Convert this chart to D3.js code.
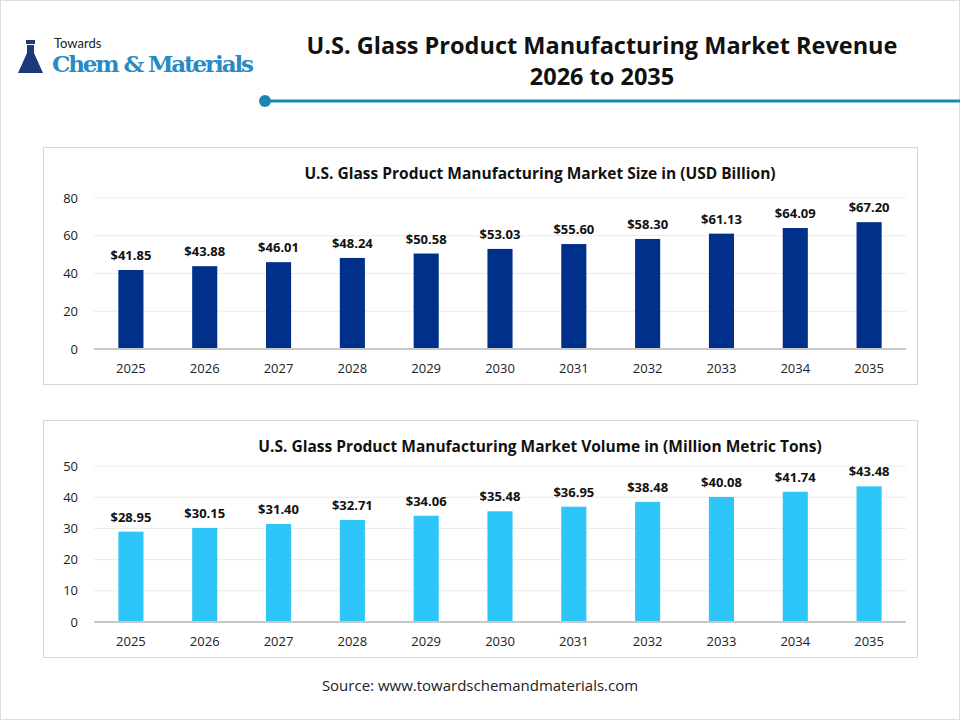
<!DOCTYPE html>
<html><head><meta charset="utf-8">
<script src="https://cdn.jsdelivr.net/npm/d3@7"></script>
<style>body{margin:0;background:#fff;font-family:"Open Sans",sans-serif}</style>
</head><body><svg id="c" width="960" height="720"></svg>
<script>
const years = ["2025","2026","2027","2028","2029","2030","2031","2032","2033","2034","2035"];
const sizeValues = [41.85,43.88,46.01,48.24,50.58,53.03,55.60,58.30,61.13,64.09,67.20];
const volumeValues = [28.95,30.15,31.40,32.71,34.06,35.48,36.95,38.48,40.08,41.74,43.48];
const sizeTicks = [0,20,40,60,80];
const volumeTicks = [0,10,20,30,40,50];

const svg = d3.select("#c");
svg.append("rect").attr("x",0).attr("y",0).attr("width",960).attr("height",720).attr("fill","#fff");
svg.append("rect").attr("x",0.5).attr("y",0.5).attr("width",959).attr("height",719).attr("fill","none").attr("stroke","#ddd");

// logo
const logo = svg.append("g");
logo.append("path").attr("d","M18,73 L27,53 L27,45 L34,45 L34,53 L43,73 Z").attr("fill","#1a3a7a");
logo.append("rect").attr("x",26).attr("y",40).attr("width",9).attr("height",4).attr("fill","#1a3a7a");
logo.append("text").attr("x",54).attr("y",48).attr("font-size",13).attr("font-family","Lato, sans-serif").attr("fill","#222").text("Towards");
logo.append("text").attr("x",52).attr("y",72).attr("font-size",23).attr("font-family","'DejaVu Serif', serif").attr("font-weight","bold").attr("fill","#2a8ac4").attr("textLength",202).text("Chem & Materials");

svg.append("text").attr("x",602).attr("y",54).attr("text-anchor","middle").attr("font-size",23.5).attr("font-weight","bold").attr("fill","#111").text("U.S. Glass Product Manufacturing Market Revenue");
svg.append("text").attr("x",602).attr("y",85).attr("text-anchor","middle").attr("font-size",23.5).attr("font-weight","bold").attr("fill","#111").text("2026 to 2035");
svg.append("line").attr("x1",265).attr("x2",960).attr("y1",101).attr("y2",101).attr("stroke","#1b86b3").attr("stroke-width",3);
svg.append("circle").attr("cx",265).attr("cy",101).attr("r",6).attr("fill","#1b86b3");

function panel(top, plotTop, title, titleSize, values, ticks, color) {
  const g = svg.append("g");
  g.append("rect").attr("x",43.5).attr("y",top+0.5).attr("width",874).attr("height",237).attr("fill","#fff").attr("stroke","#d6d6d6");
  g.append("text").attr("x",540).attr("y",top+32).attr("text-anchor","middle").attr("font-size",titleSize).attr("font-weight","bold").attr("fill","#111").text(title);
  const y = d3.scaleLinear().domain([0, ticks[ticks.length-1]]).range([top+202, plotTop]);
  const x = d3.scaleBand().domain(years).range([94, 906]).paddingInner(0.66).paddingOuter(0.33);
  g.selectAll(".grid").data(ticks.slice(1)).join("line")
    .attr("x1",94).attr("x2",906).attr("y1",d=>y(d)).attr("y2",d=>y(d)).attr("stroke","#eaeaea");
  const ax = g.append("g").attr("transform","translate(84,0)")
    .call(d3.axisLeft(y).tickValues(ticks).tickSize(0).tickPadding(6));
  ax.select(".domain").remove();
  ax.selectAll("text").attr("font-size",13).attr("fill","#222").attr("font-family","'Open Sans',sans-serif");
  g.selectAll(".bar").data(values).join("rect")
    .attr("x",(d,i)=>x(years[i])).attr("width",x.bandwidth())
    .attr("y",d=>y(d)).attr("height",d=>y(0)-y(d)).attr("fill",color);
  g.append("line").attr("x1",94).attr("x2",906).attr("y1",y(0)).attr("y2",y(0)).attr("stroke","#c8c8c8").attr("stroke-width",2);
  g.selectAll(".lab").data(values).join("text")
    .attr("x",(d,i)=>x(years[i])+x.bandwidth()/2).attr("y",d=>y(d)-10)
    .attr("text-anchor","middle").attr("font-size",13).attr("font-weight","bold").attr("fill","#111")
    .text(d=>"$"+d.toFixed(2));
  const bx = g.append("g").attr("transform",`translate(0,${y(0)+9})`)
    .call(d3.axisBottom(x).tickSize(0).tickPadding(6));
  bx.select(".domain").remove();
  bx.selectAll("text").attr("font-size",13).attr("fill","#222").attr("font-family","'Open Sans',sans-serif");
}
panel(147, 198, "U.S. Glass Product Manufacturing Market Size in (USD Billion)", 15.5, sizeValues, sizeTicks, "#00308a");
panel(420, 466, "U.S. Glass Product Manufacturing Market Volume in (Million Metric Tons)", 15.5, volumeValues, volumeTicks, "#2ec5f8");

svg.append("text").attr("x",480).attr("y",691).attr("text-anchor","middle").attr("font-size",15).attr("fill","#222").text("Source: www.towardschemandmaterials.com");
</script></body></html>
